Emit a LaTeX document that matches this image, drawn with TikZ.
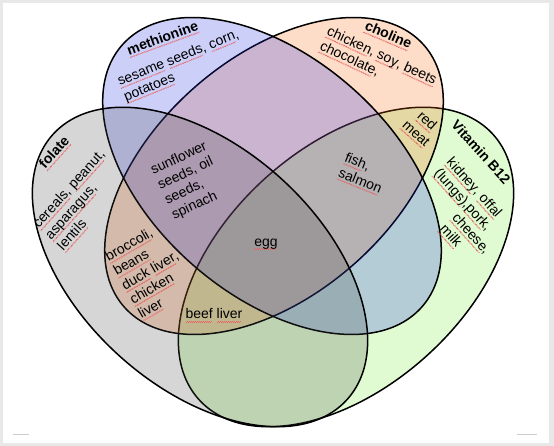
\documentclass[tikz,border=0pt]{standalone}
\usepackage{fontspec}
\setmainfont{Liberation Sans}
\definecolor{folatefill}{RGB}{69,69,69}
\definecolor{methfill}{RGB}{23,41,232}
\definecolor{cholfill}{RGB}{246,96,5}
\definecolor{bfill}{RGB}{114,241,50}
\definecolor{squiggle}{RGB}{232,96,96}
\definecolor{pageframe}{RGB}{232,232,232}
\newcommand{\vennfont}{\fontsize{14}{16.5}\selectfont}
\newsavebox{\sqbox}
% red spell-check wave under a word
\newcommand{\sq}[1]{\sbox{\sqbox}{#1}\rlap{\color{squiggle}\leaders\hbox to 2pt{\rule[-3.2pt]{1pt}{0.6pt}\rule[-2.6pt]{1pt}{0.6pt}}\hskip\wd\sqbox}\usebox{\sqbox}}
\tikzset{
  vset/.style={draw=black, line width=1.5pt, fill opacity=0.22},
  settitle/.style={font=\vennfont\bfseries, inner sep=0pt},
  food/.style={align=left, inner sep=0pt},
  cornermark/.style={draw=black!20, line width=1pt},
}

\begin{document}
\begin{tikzpicture}[x=1pt, y=1pt, font=\vennfont]
  \fill[pageframe] (0,0) rectangle (554,446);
  \fill[white] (3,3) rectangle (549,443);
  \useasboundingbox (0,0) rectangle (554,446);
  \draw[cornermark] (13,11) -- (29,11);
  \draw[cornermark] (517,11) -- (537,11);

  % the four sets, lowest first
  \filldraw[vset, fill=bfill, rotate around={42:(346,179)}] (346,179) ellipse [x radius=198, y radius=120];
  \filldraw[vset, fill=cholfill, rotate around={41:(274,270)}] (274,270) ellipse [x radius=199, y radius=119];
  \filldraw[vset, fill=methfill, rotate around={-41:(272,270)}] (272,270) ellipse [x radius=199, y radius=119];
  \filldraw[vset, fill=folatefill, rotate around={-42:(200,179)}] (200,179) ellipse [x radius=198, y radius=120];

  \node[settitle, rotate=20] (methTitle) at (163,407) {\sq{methionine}};
  \node[food, rotate=22] (methFood) at (181.6,379.8) {\sq{sesame} \sq{seeds}, \sq{corn},\\ \sq{potatoes}};

  \node[settitle, rotate=-23] (cholTitle) at (388,410) {\sq{choline}};
  \node[food, rotate=-25] (cholFood) at (378,382) {\sq{chicken}, \sq{soy}, \sq{beets}\\ \sq{chocolate},};

  \node[settitle, rotate=48] (folTitle) at (55,293) {\sq{folate}};
  \node[food, rotate=48] (folFood) at (81.8,245.3) {\sq{cereals}, \sq{peanut},\\ \sq{asparagus},\\ \sq{lentils}};

  \node[settitle, rotate=-48] (bTitle) at (481,294) {Vitamin B12};
  \node[food, rotate=-48] (bFood) at (461.7,233.9) {\sq{kidney}, \sq{offal}\\ \sq{(lungs)},\sq{pork},\\ \hspace*{45pt}\sq{cheese},\\ \hspace*{45pt}\sq{milk}};

  \node[food, align=center, rotate=-42] (redMeat) at (421,318) {\sq{red}\\ \sq{meat}};
  \node[food, rotate=-22] (fishSalmon) at (363,272) {\sq{fish},\\ \sq{salmon}};
  \node[food, rotate=25] (sunflower) at (189.5,264.9) {sunflower\\ seeds, oil\\ seeds,\\ spinach};
  \node[food, rotate=30] (broccoli) at (150.7,174.6) {\sq{broccoli},\\ \sq{beans}\\ \sq{duck} \sq{liver},\\ \sq{chicken}\\ \sq{liver}};
  \node (egg) at (266,202) {\sq{egg}};
  \node (beefLiver) at (214,130.5) {\sq{beef} \sq{liver}};
\end{tikzpicture}
\end{document}
